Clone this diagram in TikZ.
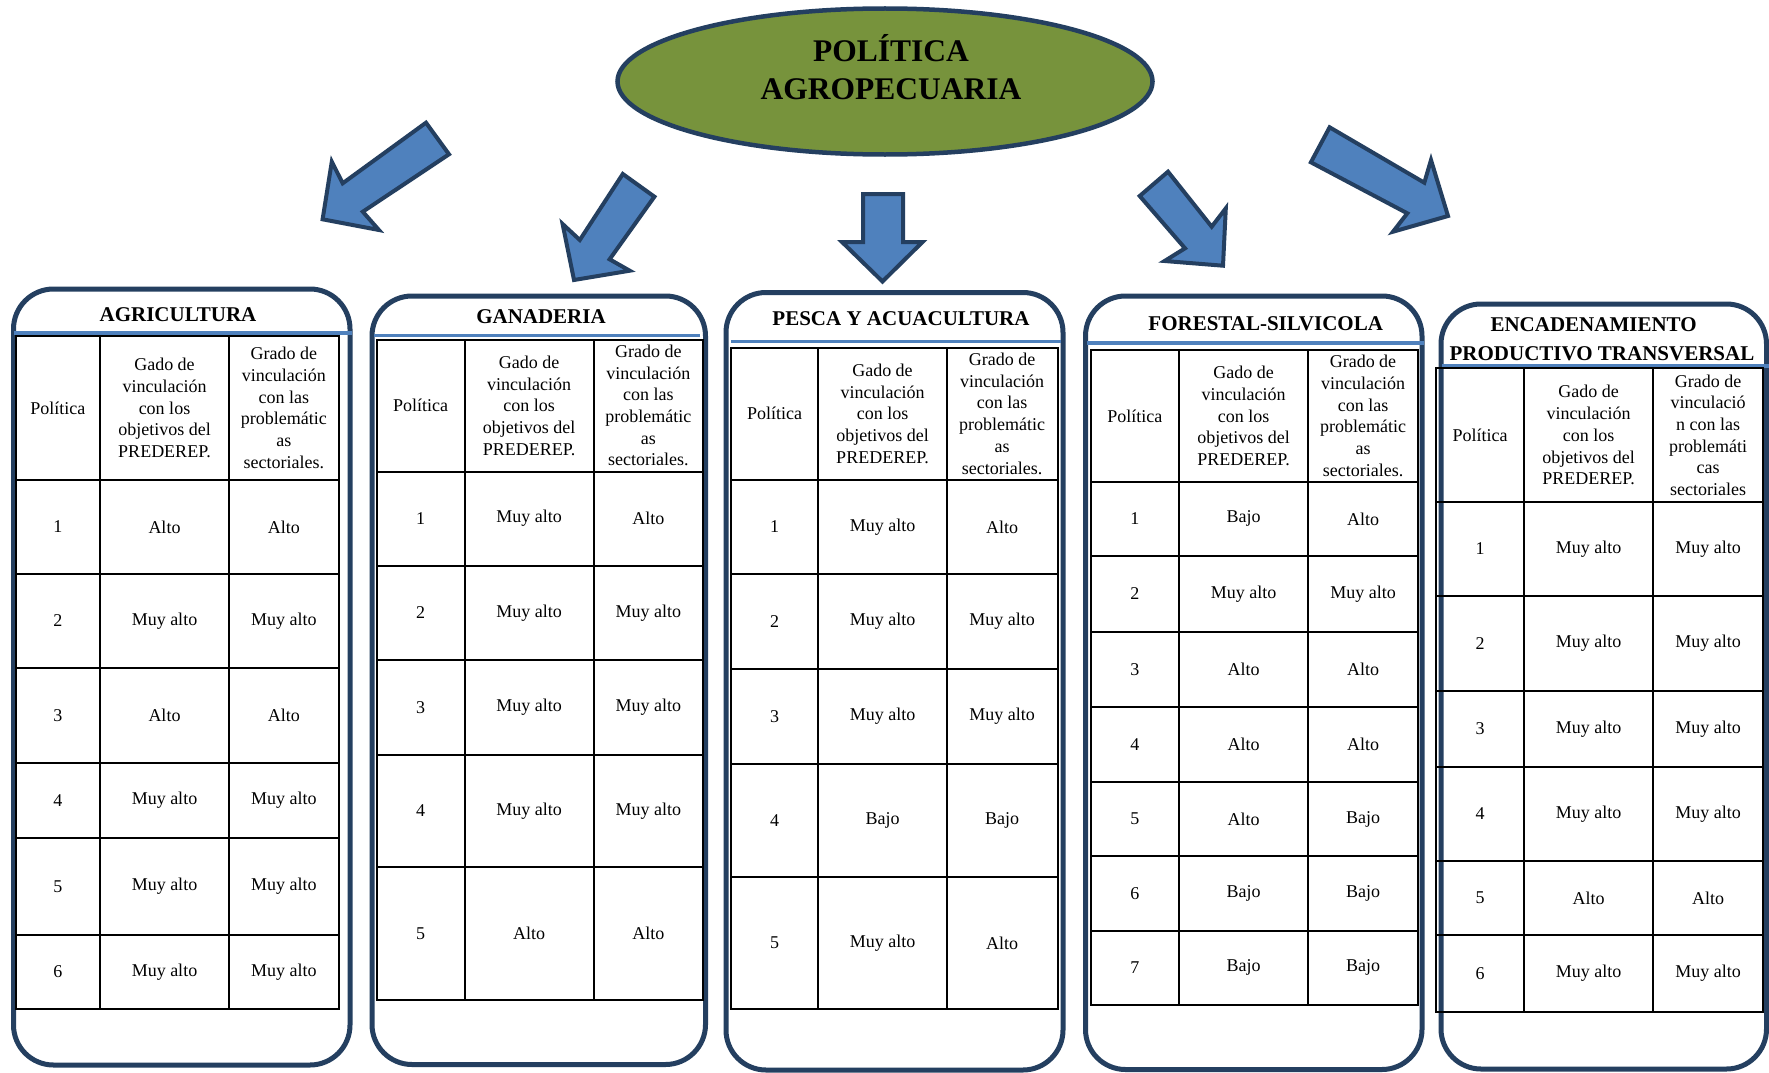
\documentclass[tikz,border=0pt]{standalone}
\usepackage{fontspec}
\setmainfont{Liberation Serif}
\usetikzlibrary{shapes.geometric}
\definecolor{pborder}{HTML}{243F60}
\definecolor{ablue}{HTML}{4F81BD}
\definecolor{olivefill}{HTML}{77933C}
\begin{document}
\begin{tikzpicture}[x=1pt,y=-1pt,
  panel/.style={draw=pborder,line width=5pt,rounded corners=40pt},
  bline/.style={draw=ablue,line width=3.5pt},
  tline/.style={draw=black,line width=2pt},
  blockarrow/.style={draw=pborder,fill=ablue,line width=4pt,line join=miter},
  hdr/.style={align=center,font=\fontsize{18}{21.7}\selectfont,inner sep=0pt},
  cell/.style={font=\fontsize{18}{21.7}\selectfont,inner sep=0pt},
  ttl/.style={font=\fontsize{21}{29}\selectfont\bfseries,anchor=base,inner sep=0pt},
  bigttl/.style={font=\fontsize{31.5}{37}\selectfont\bfseries,anchor=base,inner sep=0pt},
]
\useasboundingbox (0,0) rectangle (1769,1073);
\fill[white] (0,0) rectangle (1769,1073);

% central ellipse
\node[ellipse,draw=pborder,line width=4.5pt,fill=olivefill,minimum width=535pt,minimum height=146pt,inner sep=0pt] (pol) at (885,81.5) {};
\node[bigttl] (polA) at (891,61.7) {POLÍTICA};
\node[bigttl] (polB) at (891,99.3) {AGROPECUARIA};

% block arrows
\draw[blockarrow] (426,122.7) -- (449,154.3) -- (362.8,211.7) -- (378.9,230) -- (322.6,219.3) -- (331.8,161.7) -- (342.7,183.3) -- cycle;
\draw[blockarrow] (622.8,174) -- (654.4,196.7) -- (609.6,259.3) -- (629.7,270.7) -- (574,280) -- (562.6,224) -- (579.8,240) -- cycle;
\draw[blockarrow] (863,194) -- (903,194) -- (903,242) -- (922.5,242) -- (882.5,281.5) -- (842,242) -- (863,242) -- cycle;
\draw[blockarrow] (1168,171.7) -- (1211.7,226.7) -- (1225.8,208.3) -- (1223,265.7) -- (1164.6,261) -- (1185,248.3) -- (1139.7,196) -- cycle;
\draw[blockarrow] (1329.6,127.3) -- (1310.9,162.3) -- (1407.3,213.3) -- (1393,231.7) -- (1448,216) -- (1431,160) -- (1424.3,182.7) -- cycle;

% panels
\draw[panel] (13.5,289) rectangle (350,1065);
\draw[panel] (372,296) rectangle (705.5,1064.5);
\draw[panel] (726,292.5) rectangle (1063,1070);
\draw[panel] (1085.5,296) rectangle (1422,1069.5);
\draw[panel] (1441,304) rectangle (1766.5,1069);

% blue lines under titles
\draw[bline] (13.5,333) -- (352,333);
\draw[bline] (374,335.5) -- (700,335.5);
\draw[bline] (731,341.3) -- (1061,341.3);
\draw[bline] (1087,343) -- (1423.5,343);
\draw[bline] (1442,366) -- (1769,366);

% titles
\node[ttl] (ti1) at (178,321.7) {AGRICULTURA};
\node[ttl] (ti2) at (541,323.3) {GANADERIA};
\node[ttl] (ti3) at (901,325) {PESCA Y ACUACULTURA};
\node[ttl] (ti4) at (1265.7,330) {FORESTAL-SILVICOLA};
\node[ttl] (ti5a) at (1593.6,331.7) {ENCADENAMIENTO};
\node[ttl] (ti5b) at (1602,360) {PRODUCTIVO TRANSVERSAL};

% ---------- table 1
\draw[tline] (15.5,336) rectangle (338.8,1009);
\foreach \y in {480,574,668,763,838,935} \draw[tline] (15.5,\y) -- (338.8,\y);
\foreach \x in {100,229} \draw[tline] (\x,336) -- (\x,1009);
\node[hdr] (t1h1) at (57.75,408) {Política};
\node[hdr] (t1h2) at (164.5,408) {Gado de\\vinculación\\con los\\objetivos del\\PREDEREP.};
\node[hdr] (t1h3) at (283.9,408) {Grado de\\vinculación\\con las\\problemátic\\as\\sectoriales.};
\foreach \n/\a/\b/\ya/\yb in {1/Alto/Alto/480/574, 2/Muy alto/Muy alto/574/668, 3/Alto/Alto/668/763, 4/Muy alto/Muy alto/763/838, 5/Muy alto/Muy alto/838/935, 6/Muy alto/Muy alto/935/1009}{
  \node[cell] (t1n\n) at (57.75,{(\ya+\yb)/2}) {\n};
  \node[cell] (t1a\n) at (164.5,{(\ya+\yb)/2}) {\a};
  \node[cell] (t1b\n) at (283.9,{(\ya+\yb)/2}) {\b};
}

% ---------- table 2
\draw[tline] (376.5,339.5) rectangle (703,1000);
\foreach \y in {471.7,565.5,660,754.8,866.6} \draw[tline] (376.5,\y) -- (703,\y);
\foreach \x in {464.7,593.6} \draw[tline] (\x,339.5) -- (\x,1000);
\node[hdr] (t2h1) at (420.6,405.6) {Política};
\node[hdr] (t2h2) at (529.15,405.6) {Gado de\\vinculación\\con los\\objetivos del\\PREDEREP.};
\node[hdr] (t2h3) at (648.3,405.6) {Grado de\\vinculación\\con las\\problemátic\\as\\sectoriales.};
\foreach \n/\a/\b/\ya/\yb in {1/Muy alto/Alto/471.7/565.5, 2/Muy alto/Muy alto/565.5/660, 3/Muy alto/Muy alto/660/754.8, 4/Muy alto/Muy alto/754.8/866.6, 5/Alto/Alto/866.6/1000}{
  \node[cell] (t2n\n) at (420.6,{(\ya+\yb)/2}) {\n};
  \node[cell] (t2a\n) at (529.15,{(\ya+\yb)/2}) {\a};
  \node[cell] (t2b\n) at (648.3,{(\ya+\yb)/2}) {\b};
}

% ---------- table 3
\draw[tline] (731,347.5) rectangle (1057.8,1009);
\foreach \y in {480,574,669,764,877} \draw[tline] (731,\y) -- (1057.8,\y);
\foreach \x in {818.3,946.7} \draw[tline] (\x,347.5) -- (\x,1009);
\node[hdr] (t3h1) at (774.6,413.7) {Política};
\node[hdr] (t3h2) at (882.5,413.7) {Gado de\\vinculación\\con los\\objetivos del\\PREDEREP.};
\node[hdr] (t3h3) at (1002.2,413.7) {Grado de\\vinculación\\con las\\problemátic\\as\\sectoriales.};
\foreach \n/\a/\b/\ya/\yb in {1/Muy alto/Alto/480/574, 2/Muy alto/Muy alto/574/669, 3/Muy alto/Muy alto/669/764, 4/Bajo/Bajo/764/877, 5/Muy alto/Alto/877/1009}{
  \node[cell] (t3n\n) at (774.6,{(\ya+\yb)/2}) {\n};
  \node[cell] (t3a\n) at (882.5,{(\ya+\yb)/2}) {\a};
  \node[cell] (t3b\n) at (1002.2,{(\ya+\yb)/2}) {\b};
}

% ---------- table 4
\draw[tline] (1090.5,350) rectangle (1418,1005);
\foreach \y in {481.7,556,631.8,707.4,781.8,856.2,930.8} \draw[tline] (1090.5,\y) -- (1418,\y);
\foreach \x in {1179.4,1308} \draw[tline] (\x,350) -- (\x,1005);
\node[hdr] (t4h1) at (1134.95,415.9) {Política};
\node[hdr] (t4h2) at (1243.7,415.9) {Gado de\\vinculación\\con los\\objetivos del\\PREDEREP.};
\node[hdr] (t4h3) at (1363,415.9) {Grado de\\vinculación\\con las\\problemátic\\as\\sectoriales.};
\foreach \n/\a/\b/\ya/\yb in {1/Bajo/Alto/481.7/556, 2/Muy alto/Muy alto/556/631.8, 3/Alto/Alto/631.8/707.4, 4/Alto/Alto/707.4/781.8, 5/Alto/Bajo/781.8/856.2, 6/Bajo/Bajo/856.2/930.8, 7/Bajo/Bajo/930.8/1005}{
  \node[cell] (t4n\n) at (1134.95,{(\ya+\yb)/2}) {\n};
  \node[cell] (t4a\n) at (1243.7,{(\ya+\yb)/2}) {\a};
  \node[cell] (t4b\n) at (1363,{(\ya+\yb)/2}) {\b};
}

% ---------- table 5
\draw[tline] (1436,368.3) rectangle (1763,1012);
\foreach \y in {502,595.7,690.5,767.2,860.8,935} \draw[tline] (1436,\y) -- (1763,\y);
\foreach \x in {1524,1653} \draw[tline] (\x,368.3) -- (\x,1012);
\node[hdr] (t5h1) at (1480,435.2) {Política};
\node[hdr] (t5h2) at (1588.5,435.2) {Gado de\\vinculación\\con los\\objetivos del\\PREDEREP.};
\node[hdr] (t5h3) at (1708,435.2) {Grado de\\vinculació\\n con las\\problemáti\\cas\\sectoriales};
\foreach \n/\a/\b/\ya/\yb in {1/Muy alto/Muy alto/502/595.7, 2/Muy alto/Muy alto/595.7/690.5, 3/Muy alto/Muy alto/690.5/767.2, 4/Muy alto/Muy alto/767.2/860.8, 5/Alto/Alto/860.8/935, 6/Muy alto/Muy alto/935/1012}{
  \node[cell] (t5n\n) at (1480,{(\ya+\yb)/2}) {\n};
  \node[cell] (t5a\n) at (1588.5,{(\ya+\yb)/2}) {\a};
  \node[cell] (t5b\n) at (1708,{(\ya+\yb)/2}) {\b};
}
\end{tikzpicture}
\end{document}
